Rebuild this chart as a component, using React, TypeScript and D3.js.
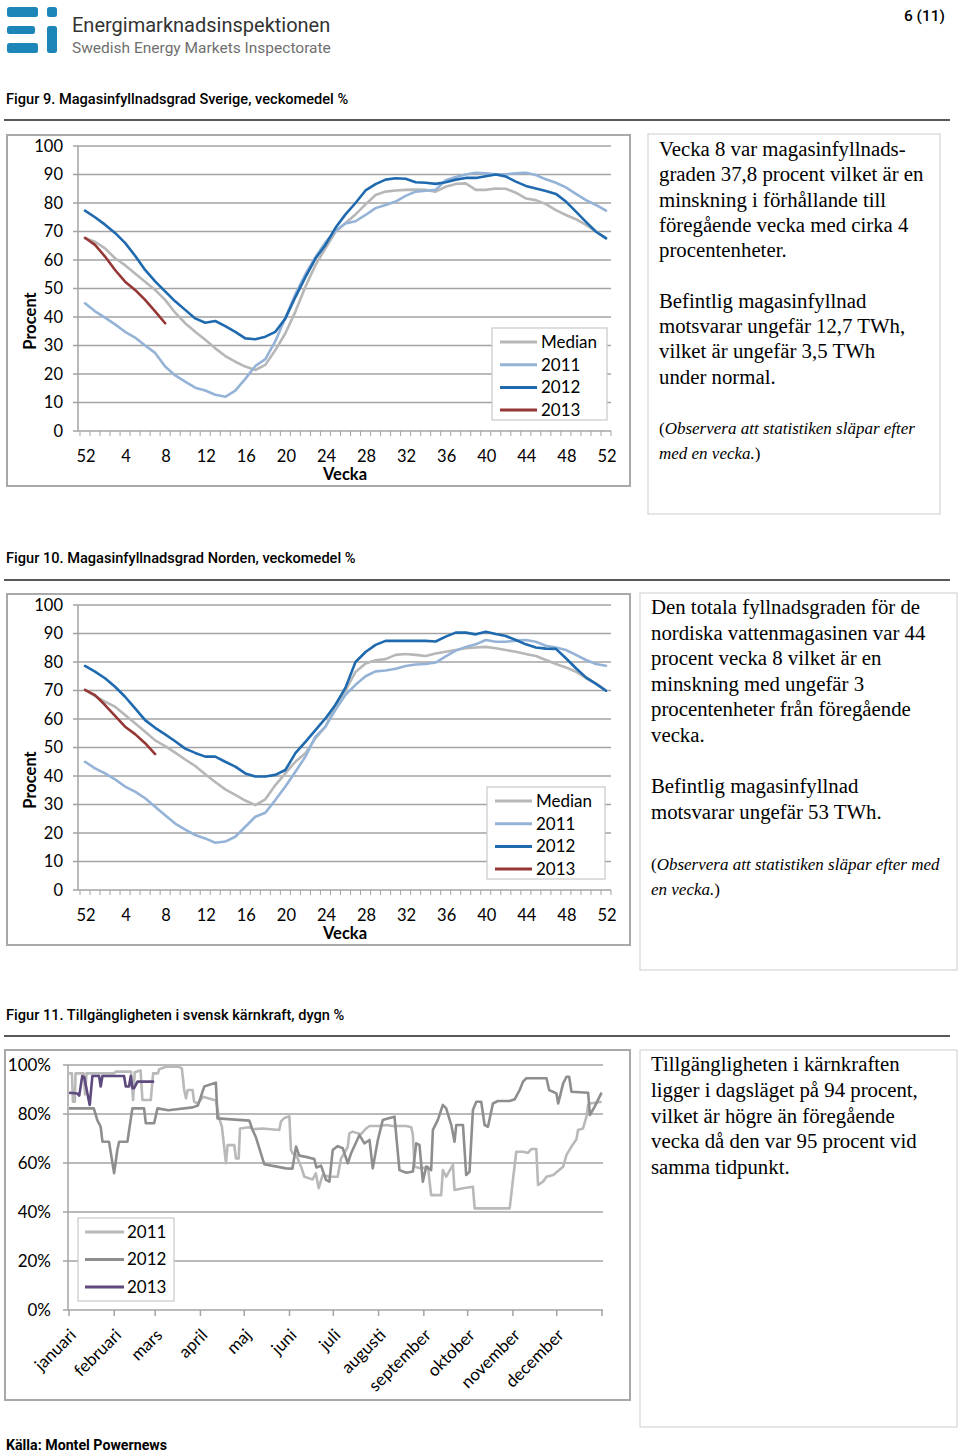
import React from "react";
import * as d3 from "d3";

// ---- data ----
const weeks = ["52","1","2","3","4","5","6","7","8","9","10","11","12","13","14","15","16","17","18","19","20","21","22","23","24","25","26","27","28","29","30","31","32","33","34","35","36","37","38","39","40","41","42","43","44","45","46","47","48","49","50","51","52"];
const weekTickLabels = ["52","4","8","12","16","20","24","28","32","36","40","44","48","52"];
const pctTicks = [0, 10, 20, 30, 40, 50, 60, 70, 80, 90, 100];

// Figur 9, Sverige
const seMedian = [67.6,66.4,64.1,60.6,58.2,55.3,52.4,49.5,46,41.5,37.8,34.8,32,29,26.3,24.3,22.6,21.4,23.2,28.4,34.3,41.9,50.6,58.2,64.1,69.9,73,76,79.5,82.8,84,84.4,84.6,84.7,84.6,84,85.7,86.7,86.9,84.6,84.6,85.1,85,83.6,81.6,81,79.6,77.5,75.8,74.3,72.3,70,67.8];
const se2011 = [44.8,42,39.8,37.4,34.8,32.8,30,27.4,22.6,19.5,17.3,15.2,14.2,12.7,12,14.2,18.3,22.8,25.2,31.5,39.7,48,55,61,66.2,70.3,72.8,73.6,75.8,78.2,79.3,80.5,82.5,84,84.3,84.6,88,89.1,90,90.6,90.4,90.1,90.1,90.4,90.6,89.8,88.3,87.1,85.5,83.2,81,79.3,77.3];
const se2012 = [77.3,75,72.4,69.5,66,61.5,56.5,52.5,49,45.5,42.5,39.5,38,38.6,36.8,34.8,32.5,32.2,33.1,34.8,39.5,47,54,60.5,65.3,71.3,76,80,84.4,86.6,88.2,88.7,88.5,87.3,87.1,86.7,87.3,88.2,88.8,88.8,89.4,90,89.3,87.5,86,85.1,84.2,83.2,80.5,77,73.4,69.9,67.6];
const se2013 = [67.8,65.3,61.2,56.5,52.4,49.5,46,42,37.8];

// Figur 10, Norden
const noMedian = [70.2,68,66.1,64.3,61.4,58.5,55.5,52.5,50.5,48.2,45.8,43.5,40.6,37.9,35.3,33.4,31.4,29.8,31.8,36.8,40.9,45,48,53.2,57.3,64.9,70,76.5,79.5,80.6,81,82.5,82.8,82.5,82.1,83,83.6,84.2,84.8,85.1,85.3,84.8,84.2,83.6,82.8,82.1,80.7,79.3,78.1,76.6,74.3,72.5,70];
const no2011 = [45,42.7,40.9,38.8,36.3,34.5,32.2,29.2,26.2,23.3,21.2,19.3,18.1,16.6,17,18.7,22.2,25.7,27.1,31.6,36.3,41.5,46.8,53.8,57.3,63.2,68.5,72,75,76.7,77,77.6,78.6,79.1,79.3,79.8,82,84,85.3,86.2,87.7,87.1,87.1,87.5,87.7,87.1,85.7,85.1,84.2,82.5,80.7,79.3,78.7];
const no2012 = [78.6,76.6,74.3,71.3,67.8,63.7,59.6,56.9,54.6,52.2,49.6,48.1,46.8,46.8,45,43.3,40.9,39.8,39.8,40.4,42.1,48,52,56.1,60.2,65,71,80,83.5,86,87.4,87.4,87.4,87.4,87.4,87.2,88.9,90.3,90.3,89.7,90.6,89.8,89.1,87.7,86.2,85.1,84.7,84.6,81.3,77.8,74.6,72.3,69.9];
const no2013 = [70.2,68.4,64.9,61.1,57.3,54.7,51.5,47.7];

// Figur 11, kärnkraft (day of year, %)
const months = ["januari","februari","mars","april","maj","juni","juli","augusti","september","oktober","november","december"];
const monthStartDays = [0, 31, 59, 90, 120, 151, 181, 212, 243, 273, 304, 334, 365];
const availTicks = [0, 20, 40, 60, 80, 100];
const nuc2011: [number, number][] = [[0,96.6],[2,96.6],[2.7,85],[4,85],[4.5,96.6],[10,96.6],[11,88],[12,96.6],[31,96.6],[32,97.3],[42.5,97.3],[43.9,85.7],[45,97],[49,97.8],[50.3,85.7],[56,85.7],[57.6,96.6],[60.9,96.6],[61.7,98.2],[66.3,99.3],[75,99.3],[77.3,98.6],[78.9,89.8],[80.1,86.4],[81.3,89.8],[84.6,89.8],[85.7,85],[88.3,84.3],[91.7,87],[98.3,85.9],[100.6,85.5],[102.9,78.2],[104.7,74.8],[107.5,59.9],[108.6,67.3],[113.2,67.3],[114.3,61.9],[116.2,61.9],[117.1,74.1],[123.5,74.6],[125.7,73.8],[132.6,74.1],[144,73.5],[145.2,77],[147.5,78.4],[150.9,79.1],[152,65.3],[153.2,63.9],[155.5,63.5],[158.9,58.5],[161.2,54.4],[166.9,53.3],[169,55.8],[171,49.7],[173.7,55.1],[178.3,54.4],[184,54.4],[185.2,58.5],[186.3,61.9],[188.6,64],[190.9,66.7],[192,72.1],[194.3,72.8],[197.7,72.1],[200,71.8],[203.5,74.1],[205.8,75.1],[212.6,75.1],[217.2,75.5],[221.7,75.1],[230.9,75.1],[234.4,74.6],[235.5,71.4],[236.6,58.5],[241.2,57.8],[245.8,58.5],[248,46.9],[254.9,46.9],[256,57.1],[258.3,54.4],[262.9,59.2],[264,49],[269.8,49.7],[276.6,50.3],[277.8,41.5],[301.8,41.5],[304,53.1],[306.3,64.6],[310.9,64.6],[314.3,64.1],[316.6,65.7],[320,65.7],[321.2,51],[324.6,52.4],[327,54.4],[331.6,55.1],[338.4,58.5],[340.7,63.3],[344.1,66.7],[347.5,69.7],[348.6,73.5],[352,74.1],[354.4,79],[355.5,83.7],[356.7,84.3],[364.7,85]];
const nuc2012: [number, number][] = [[0,82.3],[17,82.3],[19.4,77.5],[21.7,74.8],[22.9,68.7],[27.4,68.7],[30.9,55.8],[33.1,65.3],[34.3,68.7],[40,68.7],[43.4,82.3],[51.4,82.3],[52.6,76.2],[58.3,76.2],[60.6,82.3],[68,81.5],[84.6,82.7],[88.3,83.5],[92.6,91.2],[100.6,92.8],[101.7,78.2],[123.5,77.3],[125.7,73.5],[128,70.5],[133.7,59.5],[148.6,57.8],[153,57.7],[155.5,66.7],[157.7,63],[162.3,62.5],[168,61.6],[169.4,58.2],[172.6,58.9],[176,53.1],[178.3,52.4],[180.6,65.3],[184,66.9],[187.5,66],[190.9,59.9],[193.2,64],[198.9,71.4],[202.3,68],[205.8,69.4],[208,57.8],[211.5,69.4],[214.9,77.6],[218.3,78.2],[222.9,78.9],[226.3,57.1],[231,56],[235.5,56.5],[237.8,68],[240,67.4],[242.3,52.4],[244.6,58.5],[248,57.1],[249.2,73.5],[252.6,77.6],[256,83.7],[258.3,82.3],[261.8,75.5],[264,68.7],[265.2,75.5],[269.8,75.5],[272,55.1],[274.3,56.5],[276.6,81.6],[278.9,85],[282.3,85],[284.6,75.5],[286.9,74.8],[290.3,84.3],[293.7,85.3],[301.8,85.3],[305.2,86],[308.6,89.8],[310.9,93.2],[313.2,94.6],[327,94.6],[328.8,89.8],[333.8,88.4],[335,84.3],[338.4,92.5],[340.7,95.2],[342.5,95.2],[344.1,89.1],[355.5,88.7],[356.7,79.6],[360,83],[364.7,88.7]];
const nuc2013: [number, number][] = [[0,88.7],[5.7,88.4],[7,87.5],[9.1,95.5],[10.5,95],[12.6,88.4],[14.2,83.7],[16,95.5],[20.6,95.5],[21.7,91.2],[22.9,95.5],[37.7,95.5],[38.9,91.2],[41.1,91.2],[42.3,95.5],[43.4,90.5],[44.5,90.5],[46.9,93.2],[58.3,93.2]];

// ---- texts ----
const text9 = ["Vecka 8 var magasinfyllnads-", "graden 37,8 procent vilket är en", "minskning i förhållande till", "föregående vecka med cirka 4", "procentenheter.", "", "Befintlig magasinfyllnad", "motsvarar ungefär 12,7 TWh,", "vilket är ungefär 3,5 TWh", "under normal."];
const note9 = ["(Observera att statistiken släpar efter", "med en vecka.)"];
const text10 = ["Den totala fyllnadsgraden för de", "nordiska vattenmagasinen var 44", "procent vecka 8 vilket är en", "minskning med ungefär 3", "procentenheter från föregående", "vecka.", "", "Befintlig magasinfyllnad", "motsvarar ungefär 53 TWh."];
const note10 = ["(Observera att statistiken släpar efter med", "en vecka.)"];
const text11 = ["Tillgängligheten i kärnkraften", "ligger i dagsläget på 94 procent,", "vilket är högre än föregående", "vecka då den var 95 procent vid", "samma tidpunkt."];

const FONT = "Lato, 'Open Sans', sans-serif";
const SERIF = "'Liberation Serif', 'DejaVu Serif', serif";
const HEAD = "Roboto, 'Liberation Sans', sans-serif";
const GRID = "#a3a3a3";
const C_MED = "#b7b7b7";
const C_2011 = "#95b3d7";
const C_2012 = "#1f6aae";
const C_2013 = "#953735";

function WeekChart({ yTop, median, s2011, s2012, s2013, legendX, legendW }: any) {
  const x = d3.scalePoint<number>().domain(d3.range(weeks.length)).range([85, 606]);
  const step = x.step();
  const y0 = yTop + 285;
  const y = d3.scaleLinear().domain([0, 100]).range([y0, yTop]);
  const line = d3.line<number>().x((_, i) => x(i)!).y((d) => y(d));
  const series = [
    { name: "Median", data: median, color: C_MED },
    { name: "2011", data: s2011, color: C_2011 },
    { name: "2012", data: s2012, color: C_2012 },
    { name: "2013", data: s2013, color: C_2013 },
  ];
  const legTop = yTop + 182;
  return (
    <g>
      <rect x={7} y={yTop - 11} width={623} height={351} fill="#fff" stroke="#a9a9a9" strokeWidth={2} />
      {pctTicks.map((t) => (
        <g key={t}>
          {t > 0 && <line x1={78} x2={611} y1={y(t)} y2={y(t)} stroke={GRID} strokeWidth={1.5} />}
          <line x1={73} x2={78} y1={y(t)} y2={y(t)} stroke={GRID} strokeWidth={1.5} />
          <text x={63} y={y(t)} dy="0.35em" textAnchor="end" fontSize={16.5} fontFamily={FONT} fill="#000">{t}</text>
        </g>
      ))}
      <line x1={78} x2={78} y1={yTop} y2={y0} stroke={GRID} strokeWidth={1.5} />
      <line x1={78} x2={611} y1={y0} y2={y0} stroke={GRID} strokeWidth={1.5} />
      {weeks.map((w, i) => (
        <line key={"t" + i} x1={x(i)! - step / 2} x2={x(i)! - step / 2} y1={y0} y2={y0 + 5} stroke={GRID} strokeWidth={1} />
      ))}
      <line x1={x(weeks.length - 1)! + step / 2} x2={x(weeks.length - 1)! + step / 2} y1={y0} y2={y0 + 5} stroke={GRID} strokeWidth={1} />
      {weekTickLabels.map((lab, k) => (
        <text key={"l" + k} x={x(k * 4)! + 1} y={y0 + 25} dy="0.35em" textAnchor="middle" fontSize={16.5} fontFamily={FONT}>{lab}</text>
      ))}
      <text x={345} y={y0 + 43} dy="0.35em" textAnchor="middle" fontSize={16.5} fontWeight="bold" fontFamily={FONT}>Vecka</text>
      <text transform={`translate(30,${y0 - 110}) rotate(-90)`} dy="0.35em" textAnchor="middle" fontSize={16.5} fontWeight="bold" fontFamily={FONT}>Procent</text>
      {series.map((s) => (
        <path key={s.name} d={line(s.data) || ""} fill="none" stroke={s.color} strokeWidth={2.6} strokeLinejoin="round" strokeLinecap="round" />
      ))}
      <rect x={legendX} y={legTop} width={legendW} height={92} fill="#fff" stroke="#c8c8c8" strokeWidth={1.2} />
      {series.map((s, i) => (
        <g key={"lg" + s.name}>
          <line x1={legendX + 8} x2={legendX + 45} y1={legTop + 14 + i * 22.7} y2={legTop + 14 + i * 22.7} stroke={s.color} strokeWidth={3} />
          <text x={legendX + 49} y={legTop + 14 + i * 22.7} dy="0.35em" fontSize={17} fontFamily={FONT}>{s.name}</text>
        </g>
      ))}
    </g>
  );
}

function NuclearChart() {
  const xd = d3.scaleLinear().domain([0, 365]).range([69, 602]);
  const yp = d3.scaleLinear().domain([0, 100]).range([1310, 1065]);
  const line = d3.line<[number, number]>().x((d) => xd(d[0])).y((d) => yp(d[1]));
  const series = [
    { name: "2011", data: nuc2011, color: "#b9b9b9" },
    { name: "2012", data: nuc2012, color: "#8e8e8e" },
    { name: "2013", data: nuc2013, color: "#5e4a7e" },
  ];
  return (
    <g>
      <rect x={5} y={1050} width={625} height={350} fill="#fff" stroke="#a9a9a9" strokeWidth={2} />
      {availTicks.map((t) => (
        <g key={t}>
          <line x1={63} x2={603} y1={yp(t)} y2={yp(t)} stroke={GRID} strokeWidth={1.5} />
          <text x={51} y={yp(t)} dy="0.35em" textAnchor="end" fontSize={17} fontFamily={FONT}>{t + "%"}</text>
        </g>
      ))}
      <line x1={68} x2={68} y1={1065} y2={1310} stroke={GRID} strokeWidth={1.5} />
      {monthStartDays.map((d, i) => (
        <line key={"m" + i} x1={xd(d)} x2={xd(d)} y1={1310} y2={1316} stroke={GRID} strokeWidth={1.5} />
      ))}
      {months.map((m, i) => (
        <text key={m} transform={`translate(${xd(monthStartDays[i]) + 4},1332) rotate(-45)`} dy="0.35em" textAnchor="end" fontSize={17} fontFamily={FONT}>{m}</text>
      ))}
      {series.map((s) => (
        <path key={s.name} d={line(s.data) || ""} fill="none" stroke={s.color} strokeWidth={2.6} strokeLinejoin="round" />
      ))}
      <rect x={78} y={1218} width={96} height={83} fill="#fff" stroke="#c8c8c8" strokeWidth={1.2} />
      {series.map((s, i) => (
        <g key={"lg" + s.name}>
          <line x1={85} x2={124} y1={1232 + i * 27.5} y2={1232 + i * 27.5} stroke={s.color} strokeWidth={3} />
          <text x={127} y={1232 + i * 27.5} dy="0.35em" fontSize={17} fontFamily={FONT}>{s.name}</text>
        </g>
      ))}
    </g>
  );
}

function TextBox({ x, y, w, h, tx, lines, firstBase, lh, notes, noteBase }: any) {
  return (
    <g>
      <rect x={x} y={y} width={w} height={h} fill="#fff" stroke="#d6d6d6" strokeWidth={1.2} />
      {lines.map((l: string, i: number) => (
        <text key={i} x={tx} y={firstBase + i * lh} fontSize={20.8} fontFamily={SERIF} fill="#000">{l}</text>
      ))}
      {notes && notes.map((l: string, i: number) => (
        <text key={"n" + i} x={tx} y={noteBase + i * 24.5} fontSize={17} fontFamily={SERIF} fontStyle="italic" fill="#000">
          {i === 0 ? <><tspan fontStyle="normal">(</tspan>{l.slice(1)}</> : <>{l.slice(0, -1)}<tspan fontStyle="normal">)</tspan></>}
        </text>
      ))}
    </g>
  );
}

export default function App() {
  return (
    <svg width={960} height={1455} style={{ position: "absolute", left: 0, top: 0, background: "#fff" }}>
      <rect width={960} height={1455} fill="#fff" />
      {/* logo */}
      <g fill="#1d86b8">
        <rect x={7} y={7} width={31} height={10} rx={2.5} />
        <rect x={47} y={7} width={10} height={10} rx={2.5} />
        <rect x={7} y={26} width={28} height={8} rx={2.5} />
        <rect x={47} y={26} width={10} height={27} rx={2.5} />
        <rect x={7} y={43} width={31} height={10} rx={2.5} />
      </g>
      <text x={72} y={32} fontSize={20} fontFamily={HEAD} fill="#333">Energimarknadsinspektionen</text>
      <text x={72} y={53} fontSize={15.5} fontFamily={HEAD} fill="#6f6f6f">Swedish Energy Markets Inspectorate</text>
      <text x={945} y={21} textAnchor="end" fontSize={15.5} fontWeight={500} fontFamily={HEAD}>6 (11)</text>

      <text x={6} y={104} fontSize={14.6} fontWeight={500} fontFamily={HEAD}>Figur 9. Magasinfyllnadsgrad Sverige, veckomedel %</text>
      <line x1={4} x2={950} y1={120} y2={120} stroke="#222" strokeWidth={1.5} />
      <WeekChart yTop={146} median={seMedian} s2011={se2011} s2012={se2012} s2013={se2013} legendX={492} legendW={115} />
      <TextBox x={648} y={134} w={292} h={380} tx={659} lines={text9} firstBase={156} lh={25.3} notes={note9} noteBase={434} />

      <text x={6} y={563} fontSize={14.6} fontWeight={500} fontFamily={HEAD}>Figur 10. Magasinfyllnadsgrad Norden, veckomedel %</text>
      <line x1={4} x2={950} y1={580} y2={580} stroke="#222" strokeWidth={1.5} />
      <WeekChart yTop={605} median={noMedian} s2011={no2011} s2012={no2012} s2013={no2013} legendX={487} legendW={118} />
      <TextBox x={640} y={593} w={317} h={377} tx={651} lines={text10} firstBase={614} lh={25.6} notes={note10} noteBase={870} />

      <text x={6} y={1020} fontSize={14.6} fontWeight={500} fontFamily={HEAD}>Figur 11. Tillgängligheten i svensk kärnkraft, dygn %</text>
      <line x1={4} x2={950} y1={1036} y2={1036} stroke="#222" strokeWidth={1.5} />
      <NuclearChart />
      <TextBox x={640} y={1050} w={317} h={377} tx={651} lines={text11} firstBase={1071} lh={25.8} />

      <text x={6} y={1450} fontSize={14.2} fontWeight={700} fontFamily={HEAD}>Källa: Montel Powernews</text>
    </svg>
  );
}
